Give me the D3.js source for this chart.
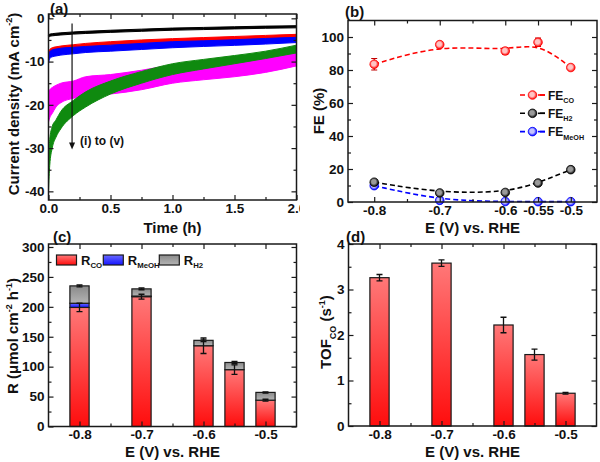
<!DOCTYPE html>
<html><head><meta charset="utf-8">
<script src="https://cdn.jsdelivr.net/npm/d3@7"></script>
<style>body{margin:0;background:#fff}svg{display:block}</style>
</head><body>
<svg id="chart" width="600" height="462"></svg>
<script>
// ---------- DATA ----------
// (a) chronoamperometry, envelopes of noisy traces (mA cm-2)
const curveTime = [0, 0.01, 0.03, 0.06, 0.1, 0.2, 0.3, 0.5, 0.75, 1.0, 1.25, 1.5, 1.75, 2.0];
const jBlackLow  = [-4.5,-4.15,-4.05,-3.95,-3.85,-3.65,-3.5,-3.25,-3.0,-2.75,-2.6,-2.45,-2.3,-2.2];
const jBlackHigh = [-3.9,-3.65,-3.55,-3.45,-3.35,-3.15,-3.0,-2.75,-2.5,-2.25,-2.1,-1.95,-1.8,-1.7];
const jRedLow    = [-9.0,-8.0,-7.6,-7.4,-7.2,-6.9,-6.6,-6.2,-5.8,-5.5,-5.25,-5.0,-4.75,-4.5];
const jRedHigh   = [-8.0,-7.2,-6.8,-6.6,-6.4,-6.1,-5.8,-5.4,-5.0,-4.7,-4.45,-4.2,-3.95,-3.7];
const jBlueLow   = [-10.5,-9.3,-8.9,-8.7,-8.5,-8.2,-7.9,-7.6,-7.2,-6.8,-6.5,-6.25,-5.95,-5.6];
const jBlueHigh  = [-8.7,-7.7,-7.3,-7.1,-6.9,-6.7,-6.5,-6.2,-5.8,-5.4,-5.2,-4.95,-4.65,-4.4];
const jMagLow    = [-24,-23,-22,-20.5,-19.5,-18.5,-18,-17.5,-16.5,-15,-14.2,-13.5,-12.5,-11];
const jMagHigh   = [-17,-16.5,-16,-15.5,-15,-14.5,-13.5,-13,-12,-10.8,-10.2,-9.5,-8.8,-7.8];
const jGreenLow  = [-40,-34,-30,-27.5,-25.5,-22.5,-20.5,-17.5,-15,-13,-11.7,-10.5,-9.3,-8];
const jGreenHigh = [-33,-28,-25,-23.5,-21.5,-19,-17,-14.5,-12.3,-10.5,-9.5,-8.6,-7.6,-6.2];
const arrowTime = 0.19, arrowFrom = -1.2, arrowTo = -30.3;
const arrowLabel = "(i) to (v)";

// shared potentials (V vs RHE)
const potentials = [-0.8, -0.7, -0.6, -0.55, -0.5];
// (b) Faradaic efficiencies (%)
const feCO = [83.5, 95.4, 91.5, 96.8, 81.5];
const feCOErr = [3.5, 1.5, 2, 2.5, 1];
const feH2 = [12, 5.5, 5.8, 11.5, 19.6];
const feMeOH = [9.9, 1.0, 0.3, 0.2, 0.2];
// (c) production rates (umol cm-2 h-1)
const rCO = [199, 217, 135, 95, 44];
const rCOErr = [7, 4, 13, 8, 1.5];
const rMeOH = [7, 1, 0, 0, 0];
const rH2 = [29, 12, 9, 12, 13];
const rTotalErr = [1.5, 1.5, 2, 2, 1];
// (d) TOF CO (s-1)
const tofCO = [3.26, 3.58, 2.22, 1.57, 0.72];
const tofErr = [0.07, 0.07, 0.17, 0.12, 0.02];

// tick values
const aXTicks = [0, 0.5, 1.0, 1.5, 2.0], aXMinor = [0.25, 0.75, 1.25, 1.75];
const aYTicks = [0, -10, -20, -30, -40], aYMinor = [-5, -15, -25, -35];
const bXTicks = [-0.8, -0.7, -0.6, -0.55, -0.5], bXMinor = [-0.75, -0.65];
const bYTicks = [0, 20, 40, 60, 80, 100], bYMinor = [10, 30, 50, 70, 90];
const cXTicks = [-0.8, -0.7, -0.6, -0.5], cXMinor = [-0.75, -0.65, -0.55];
const cYTicks = [0, 50, 100, 150, 200, 250, 300], cYMinor = [25, 75, 125, 175, 225, 275];
const dYTicks = [0, 1, 2, 3, 4], dYMinor = [0.5, 1.5, 2.5, 3.5];

// ---------- DRAWING ----------
const FONT = '"Liberation Sans", Arial, Helvetica, sans-serif';
const TICK_FS = 13.5;
const svg = d3.select("#chart");
svg.append("rect").attr("width", 600).attr("height", 462).attr("fill", "#fff");
const defs = svg.append("defs");
function vGrad(id, top, bottom) {
  const g = defs.append("linearGradient").attr("id", id).attr("x1", 0).attr("y1", 0).attr("x2", 0).attr("y2", 1);
  g.append("stop").attr("offset", "0%").attr("stop-color", top);
  g.append("stop").attr("offset", "100%").attr("stop-color", bottom);
}
vGrad("gRed", "#ff7878", "#ff0d0d");
vGrad("gBlue", "#6a6aff", "#1414ff");
vGrad("gGray", "#8a8a8a", "#b4b4b4");
function rGrad(id, inner, outer) {
  const g = defs.append("radialGradient").attr("id", id).attr("cx", "45%").attr("cy", "45%").attr("r", "55%");
  g.append("stop").attr("offset", "0%").attr("stop-color", inner);
  g.append("stop").attr("offset", "45%").attr("stop-color", inner);
  g.append("stop").attr("offset", "100%").attr("stop-color", outer);
}
rGrad("mRed", "#ffc4c4", "#ff0000");
rGrad("mBlack", "#9a9a9a", "#000000");
rGrad("mBlue", "#c4c4ff", "#0000ff");
defs.append("clipPath").attr("id", "clipA").append("rect").attr("x", 0).attr("y", 0).attr("width", 300).attr("height", 240);

function styleAxis(sel) {
  sel.select(".domain").remove();
  sel.attr("font-family", null).attr("font-size", null);
  sel.selectAll("line").attr("stroke", "#1a1a1a").attr("stroke-width", 1.2);
  sel.selectAll("text").attr("font-family", FONT).attr("font-weight", "bold").attr("font-size", TICK_FS).attr("fill", "#111");
}
function frame(g, xs, ys, cfg) {
  const [xa, xb] = xs.range();
  const [yb, ya] = ys.range();
  const fx = cfg.xFmt || (v => String(v));
  const fy = cfg.yFmt || (v => String(v));
  g.append("g").attr("transform", `translate(0,${yb})`).call(d3.axisBottom(xs).tickValues(cfg.xMajor).tickSize(-5).tickPadding(3).tickFormat(fx)).call(styleAxis);
  g.append("g").attr("transform", `translate(0,${yb})`).call(d3.axisBottom(xs).tickValues(cfg.xMinor).tickSize(-3).tickFormat("")).call(styleAxis);
  g.append("g").attr("transform", `translate(0,${ya})`).call(d3.axisTop(xs).tickValues(cfg.xMajor).tickSize(-5).tickFormat("")).call(styleAxis);
  g.append("g").attr("transform", `translate(0,${ya})`).call(d3.axisTop(xs).tickValues(cfg.xMinor).tickSize(-3).tickFormat("")).call(styleAxis);
  g.append("g").attr("transform", `translate(${xa},0)`).call(d3.axisLeft(ys).tickValues(cfg.yMajor).tickSize(-5).tickPadding(4).tickFormat(fy)).call(styleAxis);
  g.append("g").attr("transform", `translate(${xa},0)`).call(d3.axisLeft(ys).tickValues(cfg.yMinor).tickSize(-3).tickFormat("")).call(styleAxis);
  g.append("g").attr("transform", `translate(${xb},0)`).call(d3.axisRight(ys).tickValues(cfg.yMajor).tickSize(-5).tickFormat("")).call(styleAxis);
  g.append("g").attr("transform", `translate(${xb},0)`).call(d3.axisRight(ys).tickValues(cfg.yMinor).tickSize(-3).tickFormat("")).call(styleAxis);
  g.append("rect").attr("x", xa).attr("y", ya).attr("width", xb - xa).attr("height", yb - ya)
    .attr("fill", "none").attr("stroke", "#1a1a1a").attr("stroke-width", 1.5);
}
function rich(g, x, y, parts, size, opts = {}) {
  const t = g.append("text").attr("font-family", FONT).attr("font-weight", "bold").attr("font-size", size).attr("fill", "#111")
    .attr("text-anchor", opts.anchor || "start");
  if (opts.rotate) t.attr("transform", `translate(${x},${y}) rotate(-90)`);
  else t.attr("x", x).attr("y", y);
  let shift = 0;
  parts.forEach(p => {
    const target = p.sub ? size * 0.3 : p.sup ? -size * 0.42 : 0;
    t.append("tspan").attr("dy", target - shift).attr("font-size", (p.sub || p.sup) ? size * 0.6 : size).text(p.t);
    shift = target;
  });
  return t;
}
function label(g, x, y, s) {
  g.append("text").attr("x", x).attr("y", y).attr("font-family", FONT).attr("font-weight", "bold").attr("font-size", 15).attr("fill", "#111").text(s);
}
function xTitle(g, x, y) {
  g.append("text").attr("x", x).attr("y", y).attr("text-anchor", "middle").attr("font-family", FONT)
    .attr("font-weight", "bold").attr("font-size", 15).attr("fill", "#111").text("E (V) vs. RHE");
}

// ===== Panel (a) =====
{
  const g = svg.append("g").attr("clip-path", "url(#clipA)");
  const x = d3.scaleLinear().domain([0, 2]).range([48.5, 296.5]);
  const y = d3.scaleLinear().domain([-42, 1]).range([200, 14]);
  const series = [
    { lo: jBlackLow, hi: jBlackHigh, c: "#000000" },
    { lo: jRedLow, hi: jRedHigh, c: "#ff0000" },
    { lo: jBlueLow, hi: jBlueHigh, c: "#0000ff" },
    { lo: jMagLow, hi: jMagHigh, c: "#ff00ff" },
    { lo: jGreenLow, hi: jGreenHigh, c: "#0f8a0f" }
  ];
  const area = d3.area().x(d => x(d.t)).y0(d => y(d.lo)).y1(d => y(d.hi)).curve(d3.curveMonotoneX);
  series.forEach(s => {
    const pts = curveTime.map((t, i) => ({ t, lo: s.lo[i], hi: s.hi[i] }));
    g.append("path").datum(pts).attr("d", area).attr("fill", s.c).attr("stroke", s.c).attr("stroke-width", 1);
  });
  frame(g, x, y, { xMajor: aXTicks, xMinor: aXMinor, yMajor: aYTicks, yMinor: aYMinor, xFmt: d3.format(".1f") });
  // arrow
  const ax = x(arrowTime);
  g.append("line").attr("x1", ax).attr("x2", ax).attr("y1", y(arrowFrom)).attr("y2", y(arrowTo) - 6)
    .attr("stroke", "#111").attr("stroke-width", 1.2);
  g.append("path").attr("d", `M${ax - 3},${y(arrowTo) - 7} L${ax + 3},${y(arrowTo) - 7} L${ax},${y(arrowTo)} Z`).attr("fill", "#111");
  g.append("text").attr("x", x(0.255)).attr("y", y(-29.2)).attr("font-family", FONT).attr("font-weight", "bold")
    .attr("font-size", 12).attr("fill", "#111").text(arrowLabel);
  g.append("text").attr("x", 172.5).attr("y", 233).attr("text-anchor", "middle").attr("font-family", FONT)
    .attr("font-weight", "bold").attr("font-size", 15).attr("fill", "#111").text("Time (h)");
  rich(g, 18.5, 104, [{ t: "Current density (mA cm" }, { t: "-2", sup: true }, { t: ")" }], 15, { rotate: true, anchor: "middle" });
  label(g, 50, 13.5, "(a)");
}

// ===== Panel (b) =====
{
  const g = svg.append("g");
  const x = d3.scaleLinear().domain([-0.84, -0.46]).range([348, 597]);
  const y = d3.scaleLinear().domain([0, 110]).range([202, 20.5]);
  const defsS = [
    { v: feCO, c: "#ff0000", m: "mRed", err: feCOErr, name: "CO" },
    { v: feH2, c: "#000000", m: "mBlack", err: null, name: "H2" },
    { v: feMeOH, c: "#0000ff", m: "mBlue", err: null, name: "MeOH" }
  ];
  const line = d3.line().x(d => x(d.p)).y(d => y(d.v)).curve(d3.curveBasis);
  defsS.slice().reverse().forEach(s => {
    const pts = potentials.map((p, i) => ({ p, v: s.v[i], e: s.err ? s.err[i] : 0 }));
    g.append("path").datum(pts).attr("d", line).attr("fill", "none").attr("stroke", s.c).attr("stroke-width", 1.6).attr("stroke-dasharray", "5,3");
    if (s.err) {
      pts.forEach(d => {
        const cx = x(d.p);
        g.append("path").attr("d", `M${cx},${y(d.v - d.e)}V${y(d.v + d.e)}M${cx - 3},${y(d.v - d.e)}H${cx + 3}M${cx - 3},${y(d.v + d.e)}H${cx + 3}`)
          .attr("stroke", "#c00000").attr("stroke-width", 1.1).attr("fill", "none");
      });
    }
    g.selectAll(null).data(pts).enter().append("circle").attr("cx", d => x(d.p)).attr("cy", d => y(d.v)).attr("r", 4.3)
      .attr("fill", `url(#${s.m})`).attr("stroke", s.c).attr("stroke-width", 0.8);
  });
  frame(g, x, y, { xMajor: bXTicks, xMinor: bXMinor, yMajor: bYTicks, yMinor: bYMinor });
  // legend
  defsS.forEach((s, i) => {
    const ly = 95 + i * 18.3;
    g.append("line").attr("x1", 520).attr("x2", 545).attr("y1", ly).attr("y2", ly).attr("stroke", s.c).attr("stroke-width", 1.6).attr("stroke-dasharray", "5,15");
    g.append("line").attr("x1", 538).attr("x2", 545).attr("y1", ly).attr("y2", ly).attr("stroke", s.c).attr("stroke-width", 1.6);
    g.append("circle").attr("cx", 532.5).attr("cy", ly).attr("r", 4.3).attr("fill", `url(#${s.m})`).attr("stroke", s.c).attr("stroke-width", 0.8);
    rich(g, 548, ly + 4.5, [{ t: "FE" }, { t: s.name, sub: true }], 12);
  });
  xTitle(g, 472.5, 233);
  rich(g, 324, 111, [{ t: "FE (%)" }], 15, { rotate: true, anchor: "middle" });
  label(g, 345, 17, "(b)");
}

// ===== Panel (c) =====
{
  const g = svg.append("g");
  const x = d3.scaleLinear().domain([-0.85, -0.45]).range([48.5, 296.5]);
  const y = d3.scaleLinear().domain([0, 305]).range([426.5, 244]);
  const bw = x(-0.8 + 0.031) - x(-0.8);
  const table = potentials.map((p, i) => ({ p, CO: rCO[i], MeOH: rMeOH[i], H2: rH2[i] }));
  const keys = ["CO", "MeOH", "H2"];
  const fills = { CO: "url(#gRed)", MeOH: "url(#gBlue)", H2: "url(#gGray)" };
  const stacked = d3.stack().keys(keys)(table);
  stacked.forEach(layer => {
    g.selectAll(null).data(layer.filter(d => d[1] - d[0] > 0)).enter().append("rect")
      .attr("x", d => x(d.data.p) - bw / 2).attr("width", bw)
      .attr("y", d => y(d[1])).attr("height", d => y(d[0]) - y(d[1]))
      .attr("fill", fills[layer.key]).attr("stroke", "#1a1a1a").attr("stroke-width", 1.2);
  });
  const eb = (cx, v, e) => g.append("path")
    .attr("d", `M${cx},${y(v - e)}V${y(v + e)}M${cx - 3},${y(v - e)}H${cx + 3}M${cx - 3},${y(v + e)}H${cx + 3}`)
    .attr("stroke", "#111").attr("stroke-width", 1.3).attr("fill", "none");
  table.forEach((d, i) => {
    eb(x(d.p), d.CO, rCOErr[i]);
    eb(x(d.p), d.CO + d.MeOH + d.H2, rTotalErr[i]);
  });
  frame(g, x, y, { xMajor: cXTicks, xMinor: cXMinor, yMajor: cYTicks, yMinor: cYMinor });
  // legend
  const leg = [{ f: "url(#gRed)", s: "CO", bx: 56.5 }, { f: "url(#gBlue)", s: "MeOH", bx: 103.3 }, { f: "url(#gGray)", s: "H2", bx: 159.3 }];
  leg.forEach(l => {
    g.append("rect").attr("x", l.bx).attr("y", 255).attr("width", 20).attr("height", 10).attr("fill", l.f).attr("stroke", "#1a1a1a").attr("stroke-width", 1.2);
    rich(g, l.bx + 24.5, 264.5, [{ t: "R" }, { t: l.s, sub: true }], 13);
  });
  xTitle(g, 172.5, 456.5);
  rich(g, 18, 336, [{ t: "R (μmol cm" }, { t: "-2", sup: true }, { t: " h" }, { t: "-1", sup: true }, { t: ")" }], 15, { rotate: true, anchor: "middle" });
  label(g, 53, 242, "(c)");
}

// ===== Panel (d) =====
{
  const g = svg.append("g");
  const x = d3.scaleLinear().domain([-0.85, -0.45]).range([348.5, 596.5]);
  const y = d3.scaleLinear().domain([0, 4]).range([426, 244]);
  const bw = x(-0.8 + 0.031) - x(-0.8);
  const table = potentials.map((p, i) => ({ p, v: tofCO[i], e: tofErr[i] }));
  g.selectAll(null).data(table).enter().append("rect")
    .attr("x", d => x(d.p) - bw / 2).attr("width", bw)
    .attr("y", d => y(d.v)).attr("height", d => y(0) - y(d.v))
    .attr("fill", "url(#gRed)").attr("stroke", "#1a1a1a").attr("stroke-width", 1.2);
  table.forEach(d => {
    const cx = x(d.p);
    g.append("path").attr("d", `M${cx},${y(d.v - d.e)}V${y(d.v + d.e)}M${cx - 3},${y(d.v - d.e)}H${cx + 3}M${cx - 3},${y(d.v + d.e)}H${cx + 3}`)
      .attr("stroke", "#111").attr("stroke-width", 1.3).attr("fill", "none");
  });
  frame(g, x, y, { xMajor: cXTicks, xMinor: cXMinor, yMajor: dYTicks, yMinor: dYMinor });
  xTitle(g, 472.5, 456.5);
  rich(g, 331, 332, [{ t: "TOF" }, { t: "CO", sub: true }, { t: " (s" }, { t: "-1", sup: true }, { t: ")" }], 15, { rotate: true, anchor: "middle" });
  label(g, 346, 242, "(d)");
}
</script>
</body></html>
